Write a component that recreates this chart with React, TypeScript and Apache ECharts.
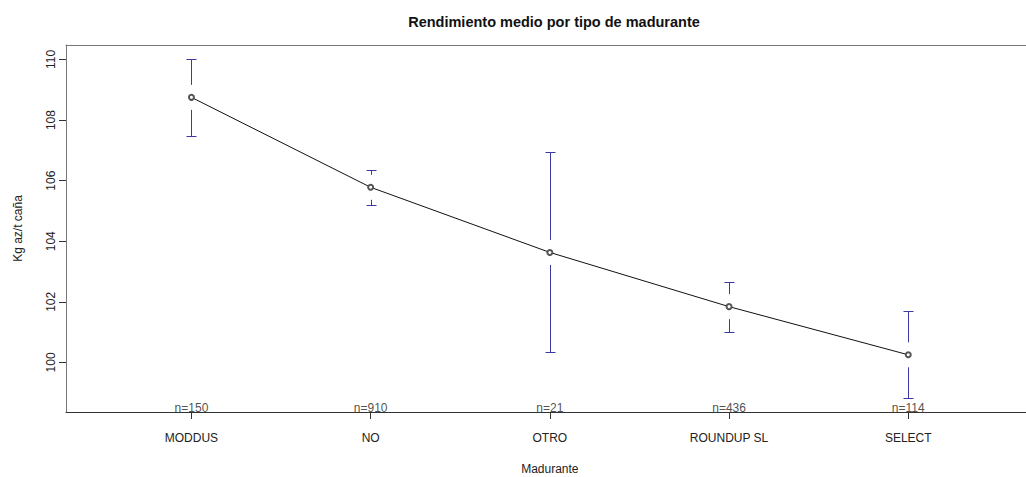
import React, { useEffect, useRef } from "react";
import * as echarts from "echarts";

// Mean sugar yield by ripener type, with confidence intervals and group sizes
const categories = ["MODDUS", "NO", "OTRO", "ROUNDUP SL", "SELECT"];
const means = [108.75, 105.78, 103.63, 101.84, 100.25];
const ciLower = [107.48, 105.21, 100.34, 101.01, 98.81];
const ciUpper = [110.03, 106.36, 106.93, 102.66, 101.71];
const counts = [150, 910, 21, 436, 114];
const yTicks = [100, 102, 104, 106, 108, 110];

const FONT = "'Liberation Sans', Arial, Helvetica, sans-serif";
const BAR_COLOR = "#3a3aa2";

export default function App() {
  const ref = useRef<HTMLDivElement>(null);

  useEffect(() => {
    document.body.style.margin = "0";
    document.body.style.overflow = "hidden";
    document.documentElement.style.overflow = "hidden";
    if (!ref.current) return;
    const chart = echarts.init(ref.current, undefined, { renderer: "svg" });

    const xs = categories.map((_, i) => i + 1);
    // R-style 4% padding around the full interval range
    const lo = Math.min(...ciLower);
    const hi = Math.max(...ciUpper);
    const pad = 0.04 * (hi - lo);
    const yMin = lo - pad;
    const yMax = hi + pad;

    const lineData = xs.map((x, i) => [x, means[i]]);
    const barData = xs.map((x, i) => [x, ciLower[i], ciUpper[i], means[i]]);
    const nData = xs.map((x, i) => [x, yMin, counts[i]]);

    chart.setOption({
      animation: false,
      backgroundColor: "#ffffff",
      textStyle: { fontFamily: FONT },
      title: {
        text: "Rendimiento medio por tipo de madurante",
        left: 549,
        top: 9,
        textAlign: "center",
        textStyle: { fontFamily: FONT, fontSize: 14.5, fontWeight: "bold", color: "#111" },
      },
      grid: {
        left: 66,
        top: 45,
        width: 967.7,
        height: 367,
        show: false,
        containLabel: false,
        outerBoundsMode: "none",
      },
      xAxis: [
        {
          type: "value",
          min: 0.3,
          max: 5.7,
          name: "Madurante",
          nameLocation: "middle",
          nameGap: 51,
          nameTextStyle: { fontFamily: FONT, fontSize: 12, color: "#222" },
          axisLine: { show: true, onZero: false, lineStyle: { color: "#333", width: 1 } },
          axisTick: { show: true, length: 7, customValues: xs, lineStyle: { color: "#333" } },
          axisLabel: {
            customValues: xs,
            margin: 20,
            fontFamily: FONT,
            fontSize: 12,
            lineHeight: 12,
            color: "#222",
            formatter: (v: number) => categories[Math.round(v) - 1] ?? "",
          },
          splitLine: { show: false },
        },
        {
          // top edge of the plot box
          type: "value",
          position: "top",
          min: 0.3,
          max: 5.7,
          axisLine: { show: true, onZero: false, lineStyle: { color: "#777", width: 1 } },
          axisTick: { show: false },
          axisLabel: { show: false },
          splitLine: { show: false },
        },
      ],
      yAxis: {
        type: "value",
        min: yMin,
        max: yMax,
        name: "Kg az/t caña",
        nameLocation: "middle",
        nameGap: 42,
        nameRotate: 90,
        nameTextStyle: { fontFamily: FONT, fontSize: 12, color: "#222" },
        axisLine: { show: true, lineStyle: { color: "#777", width: 1 } },
        axisTick: { show: true, length: 7, customValues: yTicks, lineStyle: { color: "#333" } },
        axisLabel: {
          customValues: yTicks,
          rotate: 90,
          margin: 9,
          fontFamily: FONT,
          fontSize: 12,
          color: "#222",
        },
        splitLine: { show: false },
      },
      series: [
        {
          type: "custom",
          name: "ci",
          data: barData,
          z: 3,
          renderItem: (params: any, api: any) => {
            const x = api.value(0);
            const pLo = api.coord([x, api.value(1)]);
            const pHi = api.coord([x, api.value(2)]);
            const pMean = api.coord([x, api.value(3)]);
            const px = Math.round(pMean[0]) + 0.5;
            const yHi = Math.round(pHi[1]) + 0.5;
            const yLo = Math.round(pLo[1]) + 0.5;
            const gap = 12.5;
            const cap = 5;
            const style = { stroke: BAR_COLOR, lineWidth: 1, fill: "none" };
            const children: any[] = [
              { type: "line", shape: { x1: px - cap, y1: yHi, x2: px + cap, y2: yHi }, style },
              { type: "line", shape: { x1: px - cap, y1: yLo, x2: px + cap, y2: yLo }, style },
            ];
            if (pMean[1] - gap > yHi) {
              children.push({ type: "line", shape: { x1: px, y1: yHi, x2: px, y2: pMean[1] - gap }, style });
            }
            if (pMean[1] + gap < yLo) {
              children.push({ type: "line", shape: { x1: px, y1: pMean[1] + gap, x2: px, y2: yLo }, style });
            }
            return { type: "group", children };
          },
        },
        {
          type: "line",
          name: "media",
          data: lineData,
          z: 4,
          symbol: "emptyCircle",
          symbolSize: 5,
          lineStyle: { color: "#111", width: 1 },
          itemStyle: { color: "#555", borderColor: "#555", borderWidth: 0.8 },
        },
        {
          type: "scatter",
          name: "n",
          data: nData,
          symbolSize: 0,
          z: 5,
          label: {
            show: true,
            position: "top",
            distance: 0,
            offset: [0, 1.5],
            fontFamily: FONT,
            fontSize: 12,
            lineHeight: 12,
            color: "#222",
            formatter: (p: any) => "n=" + p.value[2],
          },
        },
      ],
    });

    return () => chart.dispose();
  }, []);

  return (
    <div style={{ width: 1026, height: 477, overflow: "hidden" }}>
      <div ref={ref} style={{ width: 1100, height: 477 }} />
    </div>
  );
}
